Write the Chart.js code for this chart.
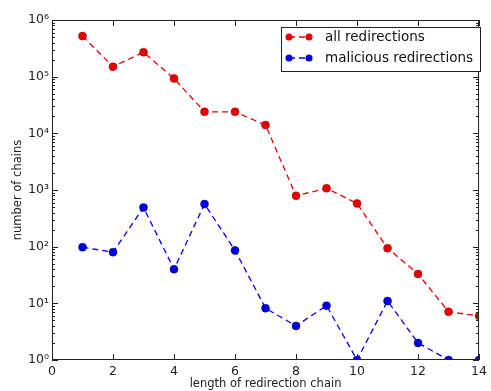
<!DOCTYPE html>
<html>
<head>
<meta charset="utf-8">
<script src="https://cdn.jsdelivr.net/npm/chart.js@4.4.1/dist/chart.umd.min.js"></script>
<style>
    html, body { margin: 0; padding: 0; background: #fff; }
    canvas { display: block; }
</style>
</head>
<body>
<canvas id="chains-chart" width="491" height="391"></canvas>
<script>
const chainLengths = [1, 2, 3, 4, 5, 6, 7, 8, 9, 10, 11, 12, 13, 14];
const allRedirections = [520000, 150000, 270000, 93000, 24000, 24000, 14000, 790, 1070, 580, 94, 33, 7.1, 6.0];
const maliciousRedirections = [98, 80, 490, 40, 565, 86, 8.2, 4.0, 9.1, 1, 11, 2.0, 1, 1];
const xTickValues = [0, 2, 4, 6, 8, 10, 12, 14];
const yTickExponents = [0, 1, 2, 3, 4, 5, 6];

const FONT = 'DejaVu Sans';
const SUP = { 0: '⁰', 1: '¹', 2: '²', 3: '³', 4: '⁴', 5: '⁵', 6: '⁶' };

function toPoints(values) {
    return chainLengths.map((len, i) => ({ x: len, y: values[i] }));
}

// matplotlib-like box with inward ticks (major + log minor)
const framePlugin = {
    id: 'frame',
    afterDatasetsDraw(chart) {
        const { ctx, chartArea: a, scales: { x, y } } = chart;
        ctx.save();
        ctx.strokeStyle = '#222';
        ctx.lineWidth = 1;
        ctx.strokeRect(a.left + 0.5, a.top + 0.5, a.right - a.left - 1, a.bottom - a.top - 1);

        ctx.beginPath();
        xTickValues.forEach((v) => {
            const px = Math.round(x.getPixelForValue(v)) + 0.5;
            ctx.moveTo(px, a.bottom);
            ctx.lineTo(px, a.bottom - 6);
            ctx.moveTo(px, a.top);
            ctx.lineTo(px, a.top + 6);
        });
        yTickExponents.forEach((e) => {
            const py = Math.round(y.getPixelForValue(10 ** e)) + 0.5;
            ctx.moveTo(a.left, py);
            ctx.lineTo(a.left + 6, py);
            ctx.moveTo(a.right, py);
            ctx.lineTo(a.right - 6, py);
            if (e === 6) {
                return;
            }
            for (let m = 2; m <= 9; m++) {
                const pm = Math.round(y.getPixelForValue(m * 10 ** e)) + 0.5;
                ctx.moveTo(a.left, pm);
                ctx.lineTo(a.left + 3, pm);
                ctx.moveTo(a.right, pm);
                ctx.lineTo(a.right - 3, pm);
            }
        });
        ctx.stroke();
        ctx.restore();
    },
};

const legendBoxPlugin = {
    id: 'legendBox',
    afterDraw(chart) {
        const { ctx } = chart;
        const box = { left: 281, top: 27, right: 480, bottom: 71 };
        ctx.save();
        ctx.fillStyle = '#fff';
        ctx.strokeStyle = '#222';
        ctx.lineWidth = 1;
        ctx.fillRect(box.left, box.top, box.right - box.left, box.bottom - box.top);
        ctx.strokeRect(box.left + 0.5, box.top + 0.5, box.right - box.left, box.bottom - box.top);

        chart.data.datasets.forEach((ds, i) => {
            const yy = 37 + i * 21;
            ctx.strokeStyle = ds.borderColor;
            ctx.lineWidth = ds.borderWidth;
            ctx.setLineDash(ds.borderDash);
            ctx.beginPath();
            ctx.moveTo(289, yy);
            ctx.lineTo(309, yy);
            ctx.stroke();
            ctx.setLineDash([]);
            ctx.fillStyle = ds.pointBackgroundColor;
            [289, 309].forEach((cx) => {
                ctx.beginPath();
                ctx.arc(cx, yy, 3.5, 0, Math.PI * 2);
                ctx.fill();
            });
            ctx.fillStyle = '#111';
            ctx.font = `13.5px "${FONT}"`;
            ctx.textBaseline = 'middle';
            ctx.textAlign = 'left';
            ctx.fillText(ds.label, 325, yy);
        });
        ctx.restore();
    },
};

function seriesStyle(color, edge) {
    return {
        borderColor: color,
        borderWidth: 1.3,
        borderDash: [6, 4],
        pointBackgroundColor: color,
        pointBorderColor: edge,
        pointBorderWidth: 0.5,
        pointRadius: 4,
        pointHoverRadius: 4,
        tension: 0,
        fill: false,
    };
}

new Chart(document.getElementById('chains-chart').getContext('2d'), {
    type: 'line',
    data: {
        datasets: [
            { label: 'all redirections', data: toPoints(allRedirections), ...seriesStyle('#e60000', '#900') },
            { label: 'malicious redirections', data: toPoints(maliciousRedirections), ...seriesStyle('#0000e6', '#006') },
        ],
    },
    options: {
        responsive: false,
        animation: false,
        devicePixelRatio: 1,
        layout: { padding: { top: 20, right: 3, left: 0, bottom: 0 } },
        plugins: {
            legend: { display: false },
            tooltip: { enabled: false },
        },
        scales: {
            x: {
                type: 'linear',
                min: 0,
                max: 14,
                afterBuildTicks: (s) => {
                    s.ticks = xTickValues.map((v) => ({ value: v }));
                },
                afterFit: (s) => {
                    s.height = 31;
                },
                grid: { display: false, drawTicks: false },
                border: { display: false },
                ticks: {
                    color: '#222',
                    padding: 4,
                    maxRotation: 0,
                    font: { family: FONT, size: 12.5 },
                },
                title: {
                    display: true,
                    text: 'length of redirection chain',
                    color: '#222',
                    padding: 0,
                    font: { family: FONT, size: 11.5 },
                },
            },
            y: {
                type: 'logarithmic',
                min: 1,
                max: 1e6,
                afterBuildTicks: (s) => {
                    s.ticks = yTickExponents.map((e) => ({ value: 10 ** e }));
                },
                afterFit: (s) => {
                    s.width = 52;
                },
                grid: { display: false, drawTicks: false },
                border: { display: false },
                ticks: {
                    color: '#222',
                    padding: 3,
                    font: { family: FONT, size: 12.5 },
                    callback: (v) => `10${SUP[Math.round(Math.log10(v))]}`,
                },
                title: {
                    display: true,
                    text: 'number of chains',
                    color: '#222',
                    padding: { top: 11, bottom: 0 },
                    font: { family: FONT, size: 11.5 },
                },
            },
        },
    },
    plugins: [framePlugin, legendBoxPlugin],
});
</script>
</body>
</html>
